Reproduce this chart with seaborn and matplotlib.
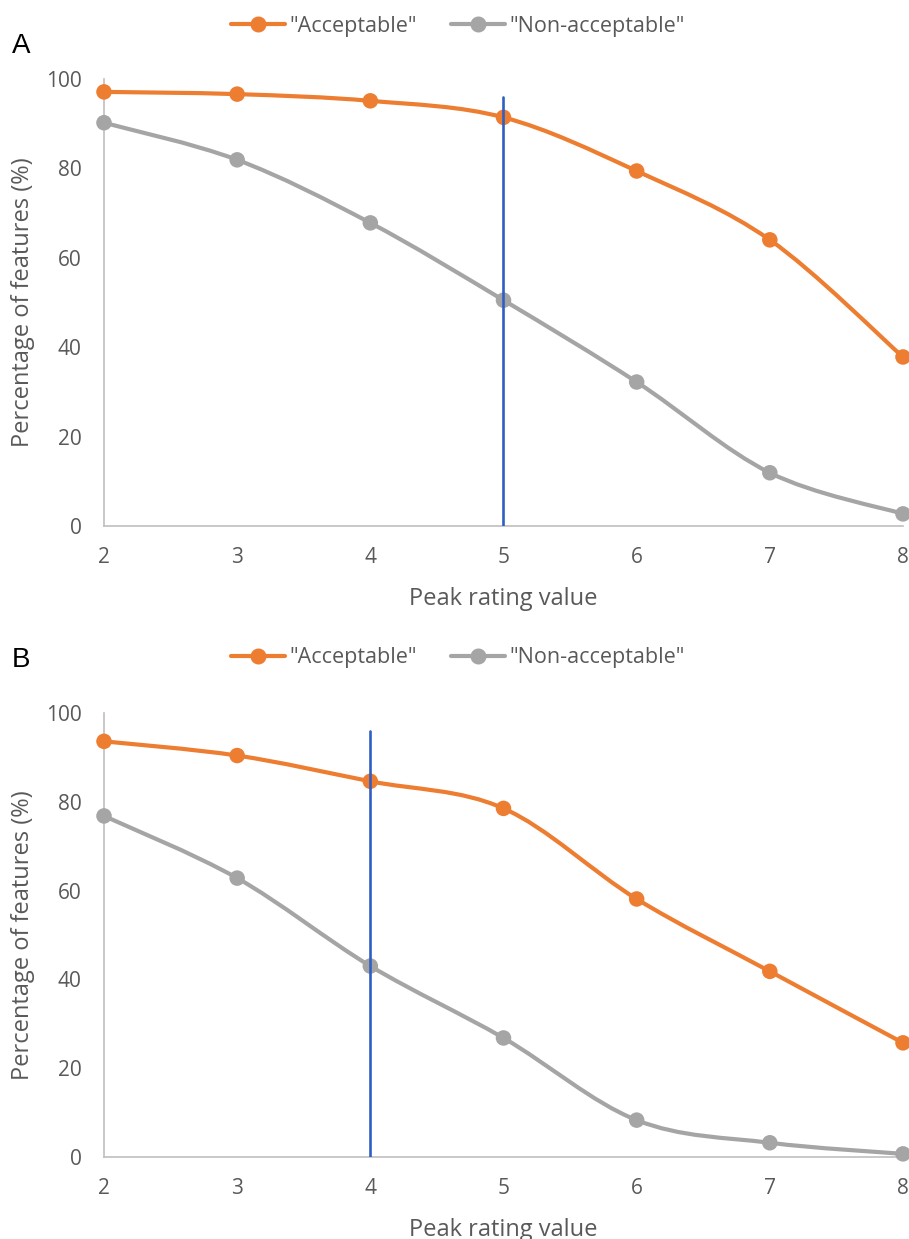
import numpy as np
import matplotlib
matplotlib.use("Agg")
import matplotlib.pyplot as plt
from matplotlib.path import Path
from matplotlib.patches import PathPatch
from matplotlib.lines import Line2D
import seaborn as sns

# -------------------- DATA --------------------
peak = [2, 3, 4, 5, 6, 7, 8]
acc_a = [97.1, 96.6, 95.1, 91.4, 79.4, 64.0, 37.8]
non_a = [90.2, 81.9, 67.8, 50.5, 32.2, 11.9, 2.7]
acc_b = [93.6, 90.4, 84.6, 78.5, 58.1, 41.8, 25.7]
non_b = [76.8, 62.8, 43.0, 26.8, 8.3, 3.2, 0.7]
cut_a = 5
cut_b = 4
cut_top = 96
series_names = ['"Acceptable"', '"Non-acceptable"']

ORANGE = "#ED7D31"
GREY = "#A5A5A5"
BLUE = "#2F5FC2"
TEXT = "#595959"

sns.set_style("white")
plt.rcParams["font.family"] = ["Open Sans", "DejaVu Sans"]


def smooth_line(ax, xs, ys, color):
    # Excel style smoothed line (Catmull-Rom as cubic Bezier)
    pts = np.column_stack([xs, ys]).astype(float)
    p = np.vstack([pts[0], pts, pts[-1]])
    verts = [tuple(pts[0])]
    codes = [Path.MOVETO]
    for i in range(1, len(p) - 2):
        c1 = p[i] + (p[i + 1] - p[i - 1]) / 6
        c2 = p[i + 1] - (p[i + 2] - p[i]) / 6
        verts += [tuple(c1), tuple(c2), tuple(p[i + 1])]
        codes += [Path.CURVE4] * 3
    patch = PathPatch(Path(verts, codes), facecolor="none", edgecolor=color,
                      lw=3.0, capstyle="round", joinstyle="round", zorder=3,
                      clip_on=False)
    ax.add_patch(patch)


def draw_panel(ax, acc, non, cut, letter, letter_y, legend_y):
    smooth_line(ax, peak, non, GREY)
    smooth_line(ax, peak, acc, ORANGE)
    ax.plot([cut, cut], [0, cut_top], color=BLUE, lw=1.9, zorder=5)
    sns.scatterplot(x=peak, y=non, ax=ax, color=GREY, s=125, edgecolor="none",
                    zorder=4, clip_on=False)
    sns.scatterplot(x=peak, y=acc, ax=ax, color=ORANGE, s=125, edgecolor="none",
                    zorder=4, clip_on=False)

    ax.set_xlim(2, 8)
    ax.set_ylim(0, 100)
    ax.set_xticks(peak)
    ax.set_yticks([0, 20, 40, 60, 80, 100])
    ax.tick_params(axis="both", length=0, labelsize=15, colors=TEXT)
    ax.tick_params(axis="x", pad=15)
    ax.tick_params(axis="y", pad=16)
    for s in ["top", "right"]:
        ax.spines[s].set_visible(False)
    for s in ["left", "bottom"]:
        ax.spines[s].set_color("#BFBFBF")
        ax.spines[s].set_linewidth(1.2)
    ax.set_xlabel("Peak rating value", fontsize=17, color=TEXT, labelpad=14)
    ax.set_ylabel("Percentage of features (%)", fontsize=17, color=TEXT, labelpad=8)

    handles = [
        Line2D([], [], color=ORANGE, lw=3, marker="o", markersize=10.5),
        Line2D([], [], color=GREY, lw=3, marker="o", markersize=10.5),
    ]
    ax.legend(handles, series_names, loc="center", bbox_to_anchor=(0.4425, legend_y),
              ncol=2, frameon=False, fontsize=15.5, labelcolor=TEXT,
              handlelength=2.5, handletextpad=0.2, columnspacing=1.6)
    fig.text(12 / 909, 1 - letter_y / 1239, letter, fontsize=20,
             family="Liberation Sans", color="black", ha="left", va="center")


fig = plt.figure(figsize=(9.09, 12.39), dpi=100)
ax_a = fig.add_axes([0.1144, 0.5755, 0.879, 0.3608])
ax_b = fig.add_axes([0.1144, 0.0662, 0.879, 0.3584])

draw_panel(ax_a, acc_a, non_a, cut_a, "A", 46, 1.118)
draw_panel(ax_b, acc_b, non_b, cut_b, "B", 660, 1.124)

fig.savefig("out.png", dpi=100, facecolor="white")
